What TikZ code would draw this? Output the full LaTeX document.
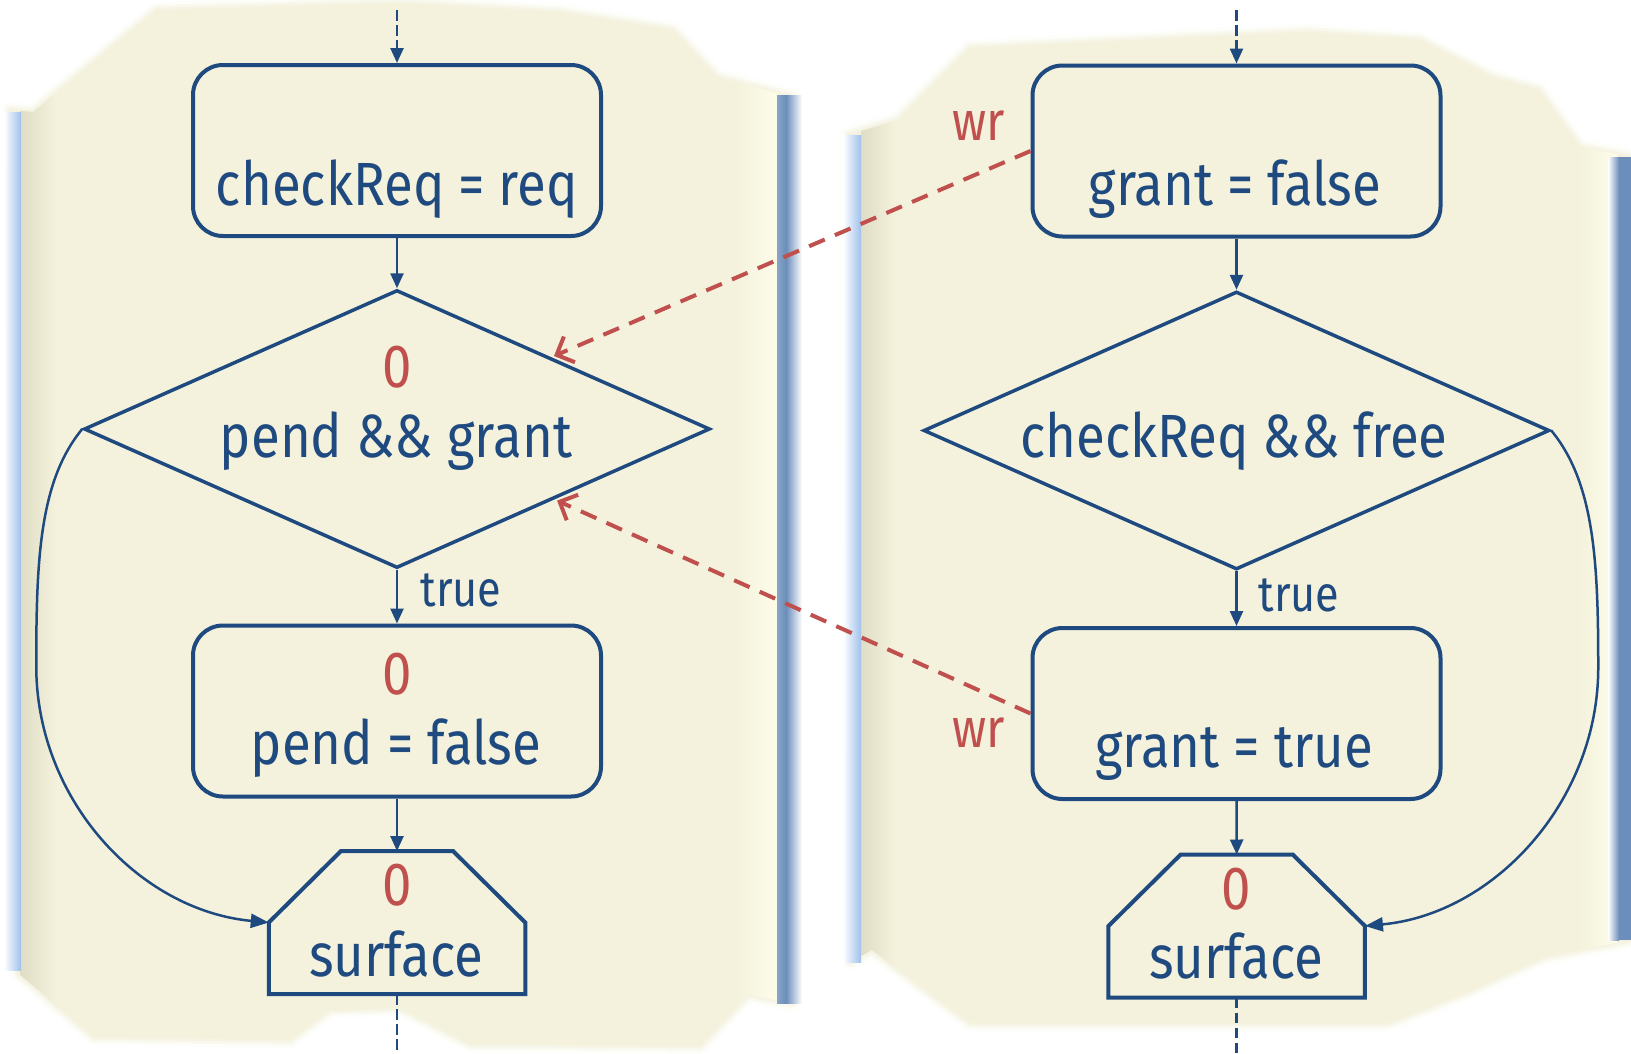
\documentclass[tikz,border=0pt]{standalone}
\usepackage{fontspec}
\setmainfont{Fira Sans}[FakeStretch=0.865]
\usetikzlibrary{arrows.meta,calc,shapes.geometric}

\definecolor{flowblue}{RGB}{31,74,128}
\definecolor{flowred}{RGB}{192,80,77}
\definecolor{paper}{RGB}{244,242,220}
\definecolor{paperdark}{RGB}{224,221,198}
\definecolor{paperlight}{RGB}{253,253,234}
\definecolor{barlight}{RGB}{160,192,236}
\definecolor{bardark}{RGB}{108,142,186}

% outlines of the two torn sheets
\def\leftsheet{(10,110) -- (33,112) -- (157,10) -- (400,3) -- (560,12) -- (673,30) -- (717,77) -- (792,97) -- (792,1003) -- (748,995) -- (700,1046) -- (470,1044) -- (400,1008) -- (330,1010) -- (290,1040) -- (94,1037) -- (18,973) -- cycle}
\def\rightsheet{(848,135) -- (898,120) -- (970,48) -- (1306,32) -- (1420,40) -- (1492,77) -- (1539,90) -- (1580,147) -- (1631,157) -- (1631,940) -- (1544,957) -- (1467,992) -- (1389,1023) -- (970,1023) -- (872,950) -- (850,962) -- cycle}

\tikzset{
  sheetedge/.style={draw=paper, line join=round},
  flowtext/.style={text=flowblue, font=\fontsize{61}{70}\selectfont, inner sep=0pt, anchor=base},
  marktext/.style={text=flowred, font=\fontsize{61}{70}\selectfont, inner sep=0pt, anchor=base},
  truetext/.style={text=flowblue, font=\fontsize{50}{60}\selectfont, inner sep=0pt, anchor=base},
  wrtext/.style={text=flowred, font=\fontsize{55}{64}\selectfont, inner sep=0pt, anchor=base},
  stepbox/.style={draw=flowblue, line width=4pt, rounded corners=30pt, minimum width=408pt, minimum height=171pt, inner sep=0pt},
  decision/.style={diamond, draw=flowblue, line width=3.5pt, minimum width=626pt, minimum height=278pt, inner sep=0pt},
  surfbox/.style={minimum width=256.5pt, minimum height=143pt, inner sep=0pt, outer sep=0pt},
  surfline/.style={draw=flowblue, line width=4pt, line join=miter},
  flow/.style={draw=flowblue, line width=2.5pt, -{Triangle[length=15pt,width=13pt]}},
  entry/.style={flow, dash pattern=on 10.5pt off 4.5pt},
  exit/.style={draw=flowblue, line width=2.5pt, dash pattern=on 10.5pt off 4.5pt},
  loopback/.style={draw=flowblue, line width=2.5pt, -{Triangle[length=18pt,width=14pt]}},
  wrline/.style={draw=flowred, line width=4pt, dash pattern=on 17pt off 11pt, -{Straight Barb[length=14pt,width=28pt]}, shorten >=3pt},
}

\begin{document}
\begin{tikzpicture}[x=1pt,y=-1pt]
\useasboundingbox (0,0) rectangle (1631,1053);
\fill[white] (0,0) rectangle (1631,1053);

% sheets with soft edges
\foreach \w/\o in {16/0.15, 10/0.3, 5/0.5} {
  \draw[sheetedge, line width=\w pt, opacity=\o] \leftsheet;
  \draw[sheetedge, line width=\w pt, opacity=\o] \rightsheet;
}
\fill[paper] \leftsheet;
\fill[paper] \rightsheet;

\begin{scope}
  \clip \leftsheet;
  \shade[left color=paperdark, right color=paper] (20,0) rectangle (56,1053);
  \shade[left color=paper, right color=paperlight] (735,0) rectangle (778,1053);
\end{scope}
\begin{scope}
  \clip \rightsheet;
  \shade[left color=paperdark, right color=paper] (861,0) rectangle (895,1053);
  \shade[left color=paper, right color=paperlight] (1580,0) rectangle (1617,1053);
\end{scope}

% edge bars of the sheets
\shade[left color=white, right color=barlight] (4,112) rectangle (21,970);
\shade[left color=bardark!80, right color=bardark] (777,95) rectangle (786,1003);
\shade[left color=bardark, right color=white] (786,95) rectangle (802,1003);
\shade[left color=white, right color=barlight] (843,135) rectangle (861,962);
\fill[bardark] (1619,157) rectangle (1631,940);
\shade[left color=white, right color=bardark] (1608,157) rectangle (1619,940);

% left flow
\node[stepbox] (A) at (397,150.5) {};
\node[decision] (B) at (397,429) {};
\node[stepbox] (C) at (397,711) {};
\node[surfbox] (D) at (397,922.5) {};
\draw[surfline] ($(D.north)+(-56,0)$) -- ($(D.north)+(56,0)$) -- (D.east) -- (D.south east) -- (D.south west) -- (D.west) -- cycle;

\node[flowtext] (tA) at (397,205) {checkReq = req};
\node[marktext] (zB) at (397,387) {0};
\node[flowtext] (tB) at (396,457) {pend \&\& grant};
\node[truetext] (trueB) at (461,606) {true};
\node[marktext] (zC) at (397,694) {0};
\node[flowtext] (tC) at (396,764) {pend = false};
\node[marktext] (zD) at (397,905) {0};
\node[flowtext] (tD) at (396,976) {surface};

\coordinate (inA) at (397,10);
\coordinate (outD) at (397,1053);
\draw[entry] (inA) -- (A.north);
\draw[flow] (A.south) -- (B.north);
\draw[flow] (B.south) -- (C.north);
\draw[flow] (C.south) -- (D.north);
\draw[exit] (D.south) -- (outD);
\draw[loopback] (B.west) .. controls +(-43,52) and +(0,-106) .. ($(B.west)+(-46,237)$)
  .. controls +(0,134) and +(-129,-12) .. (D.west);

% right flow
\node[stepbox] (E) at (1236.5,151) {};
\node[decision] (F) at (1236.5,430.5) {};
\node[stepbox] (G) at (1236.5,713.5) {};
\node[surfbox] (H) at (1236.7,926) {};
\draw[surfline] ($(H.north)+(-56,0)$) -- ($(H.north)+(56,0)$) -- (H.east) -- (H.south east) -- (H.south west) -- (H.west) -- cycle;

\node[flowtext] (tE) at (1235,205) {grant = false};
\node[wrtext] (wrE) at (979,140) {wr};
\node[flowtext] (tF) at (1234,457) {checkReq \&\& free};
\node[truetext] (trueF) at (1299,611) {true};
\node[flowtext] (tG) at (1234,767) {grant = true};
\node[wrtext] (wrG) at (979,747) {wr};
\node[marktext] (zH) at (1236.7,909) {0};
\node[flowtext] (tH) at (1236,978) {surface};

\coordinate (inE) at (1236.5,10);
\coordinate (outH) at (1236.7,1053);
\draw[entry] (inE) -- (E.north);
\draw[flow] (E.south) -- (F.north);
\draw[flow] (F.south) -- (G.north);
\draw[flow] (G.south) -- (H.north);
\draw[exit] (H.south) -- (outH);
\draw[loopback] (F.east) .. controls +(43,52) and +(0,-106) .. ($(F.east)+(47,237)$)
  .. controls +(0,134) and +(129,-12) .. (H.east);

% writes from the right flow into the left decision
\draw[wrline] (E.west) -- ($(B.north)!0.49!(B.east)$);
\draw[wrline] (G.west) -- ($(B.south)!0.5!(B.east)$);
\end{tikzpicture}
\end{document}
